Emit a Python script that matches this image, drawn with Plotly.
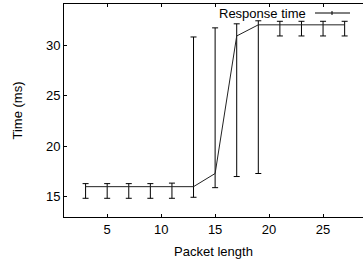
import plotly.graph_objects as go

packet_length = [3, 5, 7, 9, 11, 13, 15, 17, 19, 21, 23, 25, 27]
response_time = [16.0, 16.0, 16.0, 16.0, 16.0, 16.0, 17.3, 30.9, 32.0, 32.0, 32.0, 32.0, 32.0]
time_min = [14.85, 14.85, 14.85, 14.85, 14.85, 14.95, 15.9, 17.0, 17.3, 30.9, 30.9, 30.9, 30.9]
time_max = [16.3, 16.3, 16.3, 16.3, 16.35, 30.8, 31.7, 32.1, 32.4, 32.35, 32.35, 32.35, 32.35]

err_plus = [hi - y for hi, y in zip(time_max, response_time)]
err_minus = [y - lo for lo, y in zip(time_min, response_time)]

FONT = "Liberation Sans, Arial, Helvetica, sans-serif"
F13 = dict(family=FONT, size=13, color="black")

fig = go.Figure()
fig.add_trace(go.Scatter(
    x=packet_length, y=response_time, mode="lines",
    line=dict(color="#222222", width=1),
    error_y=dict(type="data", symmetric=False, array=err_plus, arrayminus=err_minus,
                 color="black", thickness=1, width=3),
    name="Response time", showlegend=False,
))

# legend: text then line sample (gnuplot style)
fig.add_annotation(xref="paper", yref="paper", x=(308 - 64) / 299, y=(217 - 13) / 213,
                   xanchor="right", yanchor="middle", text="Response time", showarrow=False,
                   font=F13)
fig.add_shape(type="line", xref="paper", yref="paper",
              x0=(315 - 64) / 299, x1=(350 - 64) / 299,
              y0=(217 - 13) / 213, y1=(217 - 13) / 213,
              line=dict(color="black", width=1))
fig.add_shape(type="line", xref="paper", yref="paper",
              x0=(332 - 64) / 299, x1=(332 - 64) / 299,
              y0=(217 - 15) / 213, y1=(217 - 11) / 213,
              line=dict(color="black", width=1))

fig.update_layout(
    width=363, height=263,
    margin=dict(l=64, r=0, t=4, b=46, autoexpand=False),
    plot_bgcolor="white", paper_bgcolor="white",
    font=F13,
    xaxis=dict(range=[1, 28.7], tickvals=[5, 10, 15, 20, 25], showgrid=False, zeroline=False,
               showline=True, linecolor="black", linewidth=1, mirror="ticks",
               ticks="inside", ticklen=3, tickcolor="black", automargin=False,
               tickfont=F13,
               title=dict(text="Packet length", standoff=11, font=F13)),
    yaxis=dict(range=[13, 34.06], tickvals=[15, 20, 25, 30], showgrid=False, zeroline=False,
               showline=True, linecolor="black", linewidth=1, mirror=False,
               ticks="inside", ticklen=3, tickcolor="black", automargin=False,
               tickfont=F13,
               title=dict(text="Time (ms)", standoff=20, font=F13)),
)

fig.write_html("out.html", config={"displayModeBar": False},
               post_script="document.body.style.margin='0px';")
